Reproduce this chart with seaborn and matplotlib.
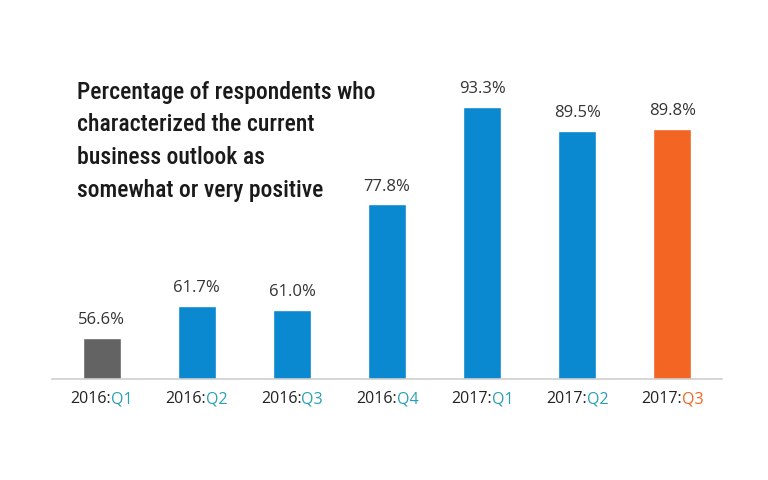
import matplotlib
matplotlib.use("Agg")
import matplotlib.pyplot as plt
import seaborn as sns
import pandas as pd
from matplotlib import font_manager

years = ["2016", "2016", "2016", "2016", "2017", "2017", "2017"]
quarters = ["Q1", "Q2", "Q3", "Q4", "Q1", "Q2", "Q3"]
values = [56.6, 61.7, 61.0, 77.8, 93.3, 89.5, 89.8]
bar_colors = ["#636363", "#0a88d0", "#0a88d0", "#0a88d0", "#0a88d0", "#0a88d0", "#f26522"]
quarter_colors = ["#2a9fb5", "#2a9fb5", "#2a9fb5", "#2a9fb5", "#2a9fb5", "#2a9fb5", "#f26522"]
title_lines = ["Percentage of respondents who", "characterized the current",
               "business outlook as", "somewhat or very positive"]

labels = [f"{y}:{q}" for y, q in zip(years, quarters)]
df = pd.DataFrame({"period": labels, "value": values})

sns.set_theme(style="white")
avail = {f.name for f in font_manager.fontManager.ttflist}
narrow = None
for cand in ["Liberation Sans Narrow", "Roboto Condensed", "Open Sans Condensed",
             "DejaVu Sans Condensed", "Noto Sans Condensed"]:
    if cand in avail:
        narrow = cand
        break
if narrow is None:
    cond = sorted(n for n in avail if "Condensed" in n or "Narrow" in n)
    narrow = cond[0] if cond else "DejaVu Sans"
title_size = 17 if narrow != "DejaVu Sans" else 14.5
plt.rcParams["font.family"] = ["Open Sans", "DejaVu Sans"]

fig = plt.figure(figsize=(7.68, 4.8), dpi=100)
ax = fig.add_axes([0.068, 0.2104, 0.872, 0.654])
sns.barplot(data=df, x="period", y="value", hue="period", palette=bar_colors,
            legend=False, width=0.4, ax=ax, saturation=1)
ax.set_ylim(50, 100)
ax.set_xlim(-0.52, 6.52)
for s in ["top", "right", "left"]:
    ax.spines[s].set_visible(False)
ax.spines["bottom"].set_color("#d0d0d0")
ax.spines["bottom"].set_linewidth(1.2)
ax.set_yticks([])
ax.set_xticks([])
ax.set_xlabel("")
ax.set_ylabel("")

for i, v in enumerate(values):
    ax.annotate(f"{v:.1f}%", (i, v), xytext=(0, 7), textcoords="offset points",
                ha="center", va="bottom", fontsize=12, color="#333333")

trans = ax.get_xaxis_transform()
for i, (y, q) in enumerate(zip(years, quarters)):
    ax.text(i + 0.1, -0.065, f"{y}:", transform=trans, ha="right", va="center",
            fontsize=11.5, color="#222222")
    ax.text(i + 0.1, -0.065, q, transform=trans, ha="left", va="center",
            fontsize=11.5, color=quarter_colors[i])

line_y_px = [90, 122, 155, 188]
for line, ypx in zip(title_lines, line_y_px):
    fig.text(0.1, 1 - ypx / 480, line, ha="left", va="center_baseline",
             fontsize=title_size, color="#1a1a1a",
             family=[narrow, "DejaVu Sans"], weight="medium")

fig.savefig("out.png", dpi=100, facecolor="white")
